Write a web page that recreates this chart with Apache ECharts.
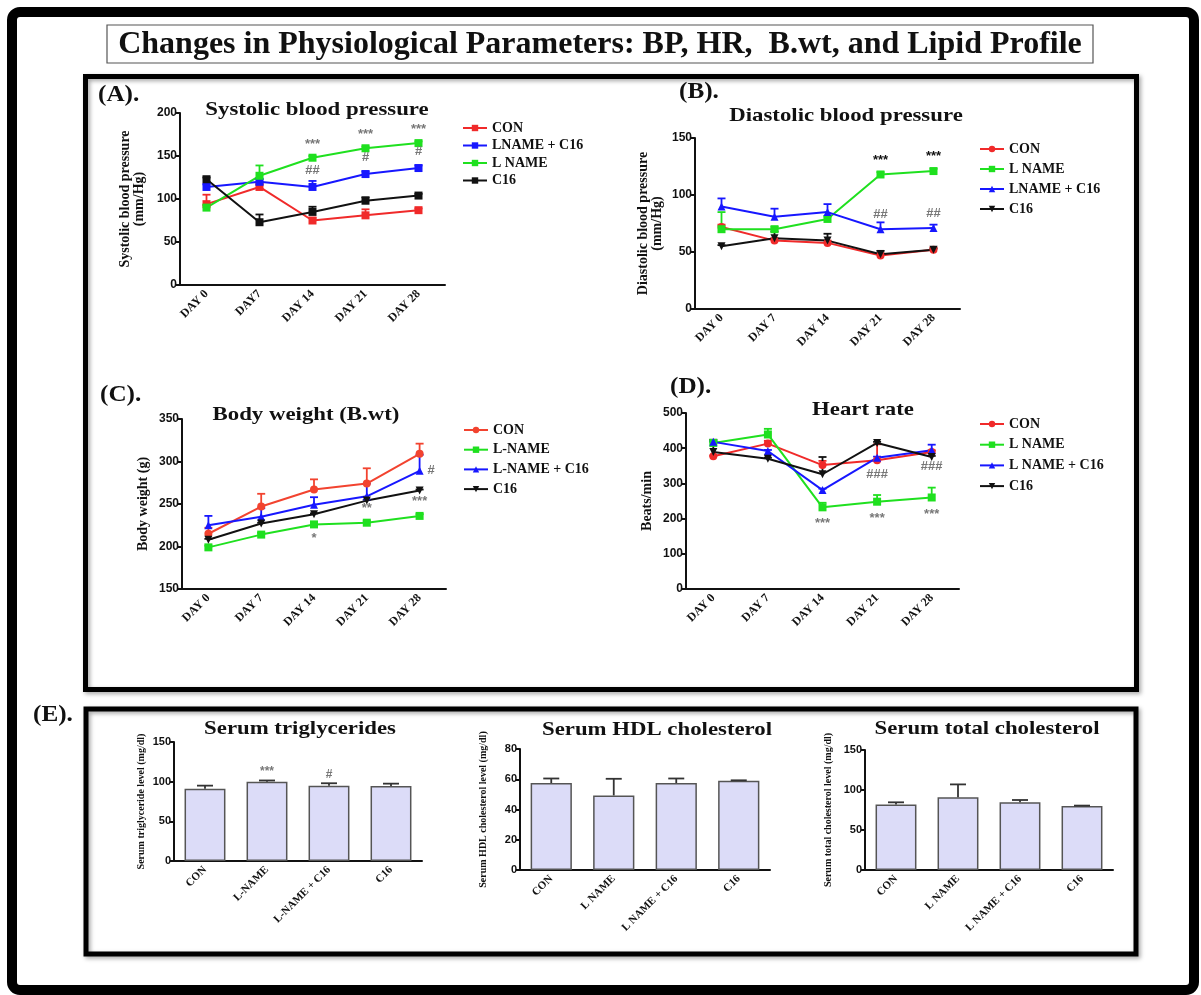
<!DOCTYPE html>
<html>
<head>
<meta charset="utf-8">
<script src="https://cdn.jsdelivr.net/npm/echarts@6/dist/echarts.min.js"></script>
<style>
  html, body { margin: 0; padding: 0; background: #fff; }
  #chart { width: 1201px; height: 995px; }
</style>
</head>
<body>
<div id="chart"></div>
<script>
// ---- data ----
const daysA = ['DAY 0', 'DAY7', 'DAY 14', 'DAY 21', 'DAY 28'];
const days = ['DAY 0', 'DAY 7', 'DAY 14', 'DAY 21', 'DAY 28'];

// (A) systolic blood pressure
const sbpCon = [94, 114, 75, 81, 87];
const sbpConErr = [11, 3, 3, 7, 2];
const sbpLnameC16 = [114, 120, 114, 129, 136];
const sbpLnameC16Err = [3, 3, 7, 3, 3];
const sbpLname = [90, 127, 148, 159, 165];
const sbpLnameErr = [3, 12, 2, 2, 2];
const sbpC16 = [123, 73, 85, 98, 104];
const sbpC16Err = [2, 9, 6, 4, 2];
const sbpLnameNotes = ['', '', '***', '***', '***'];
const sbpLnameC16Notes = ['', '', '##', '#', '#'];

// (B) diastolic blood pressure
const dbpCon = [72, 60, 58, 47, 52];
const dbpConErr = [2, 2, 2, 2, 2];
const dbpLname = [70, 70, 79, 118, 121];
const dbpLnameErr = [15, 2, 2, 2, 2];
const dbpLnameC16 = [90, 81, 85, 70, 71];
const dbpLnameC16Err = [7, 7, 7, 6, 3];
const dbpC16 = [55, 62, 60, 48, 52];
const dbpC16Err = [1, 6, 6, 3, 1];
const dbpLnameNotes = ['', '', '', '***', '***'];
const dbpLnameC16Notes = ['', '', '', '##', '##'];

// (C) body weight
const bwCon = [215, 247, 267, 274, 309];
const bwConErr = [7, 15, 12, 18, 12];
const bwLname = [199, 214, 226, 228, 236];
const bwLnameErr = [2, 2, 2, 2, 2];
const bwLnameC16 = [225, 235, 249, 259, 289];
const bwLnameC16Err = [11, 10, 9, 15, 19];
const bwC16 = [208, 227, 238, 254, 266];
const bwC16Err = [1, 1, 1, 1, 1];
const bwLnameNotes = ['', '', '*', '**', '***'];
const bwLnameC16Notes = ['', '', '', '', '#'];

// (D) heart rate
const hrCon = [377, 413, 352, 366, 389];
const hrConErr = [2, 8, 12, 45, 5];
const hrLname = [415, 439, 232, 248, 260];
const hrLnameErr = [3, 16, 13, 19, 28];
const hrLnameC16 = [418, 392, 281, 373, 394];
const hrLnameC16Err = [2, 3, 4, 3, 16];
const hrC16 = [389, 370, 326, 415, 375];
const hrC16Err = [35, 3, 49, 3, 3];
const hrLnameNotes = ['', '', '***', '***', '***'];
const hrLnameC16Notes = ['', '', '', '###', '###'];

// (E) lipid profile
const groupsTg = ['CON', 'L-NAME', 'L-NAME + C16', 'C16'];
const groupsChol = ['CON', 'L NAME', 'L NAME + C16', 'C16'];
const tgValues = [91, 100, 95, 94.5];
const tgErr = [4, 1.5, 3, 3];
const tgNotes = ['', '***', '#', ''];
const hdlValues = [57.5, 49.3, 57.5, 59];
const hdlErr = [3, 11, 3, 0.3];
const tcValues = [82, 91, 84.6, 80];
const tcErr = [2.6, 16, 2.9, 0.5];

// ---- styling ----
const SERIF = "'Liberation Serif', 'Times New Roman', serif";
const SANS = "'Liberation Sans', Arial, sans-serif";
const RED = '#f02a2a', BLUE = '#1717ff', GREEN = '#1fe01f', BLACK = '#111', NOTE = '#777';

const grids = [], xAxes = [], yAxes = [], series = [], legends = [], graphics = [];

function errorBarSeries(idx, values, errs, color, capHalf) {
  return {
    type: 'custom', xAxisIndex: idx, yAxisIndex: idx, z: 1, silent: true,
    data: values.map((v, i) => [i, v, errs[i]]),
    renderItem: (params, api) => {
      const base = api.coord([api.value(0), api.value(1)]);
      const top = api.coord([api.value(0), api.value(1) + api.value(2)]);
      const st = { stroke: color, lineWidth: 1.8 };
      return {
        type: 'group', children: [
          { type: 'line', shape: { x1: base[0], y1: base[1], x2: top[0], y2: top[1] }, style: st },
          { type: 'line', shape: { x1: top[0] - capHalf, y1: top[1], x2: top[0] + capHalf, y2: top[1] }, style: st }
        ]
      };
    }
  };
}

function axes(idx, cats, yMin, yMax, yStep, yName, nameGap, opts) {
  xAxes.push({
    gridIndex: idx, type: 'category', data: cats, boundaryGap: true,
    axisLine: { lineStyle: { color: BLACK, width: 2 } },
    axisTick: { alignWithLabel: true, length: 4, lineStyle: { color: BLACK, width: 2 } },
    axisLabel: { rotate: 45, interval: 0, margin: 7, color: BLACK, fontFamily: SERIF, fontWeight: 'bold', fontSize: opts.xFont }
  });
  yAxes.push({
    gridIndex: idx, type: 'value', min: yMin, max: yMax, interval: yStep,
    splitLine: { show: false },
    axisLine: { show: true, lineStyle: { color: BLACK, width: 2 } },
    axisTick: { show: true, length: 4, lineStyle: { color: BLACK, width: 2 } },
    axisLabel: { margin: 3, color: BLACK, fontFamily: SANS, fontWeight: 'bold', fontSize: opts.yFont },
    name: yName, nameLocation: 'middle', nameRotate: 90, nameGap: nameGap,
    nameTextStyle: { color: BLACK, fontFamily: SERIF, fontWeight: 'bold', fontSize: opts.nameFont, lineHeight: 14 }
  });
}

function textAt(x, y, text, size, align, sx) {
  graphics.push({
    type: 'text', x: x, y: y, z: 10, scaleX: sx || 1,
    style: { text: text, fill: BLACK, font: `bold ${size}px ${SERIF}`, textAlign: align || 'center', textVerticalAlign: 'middle' }
  });
}

function linePanel(p) {
  const idx = grids.length;
  grids.push(Object.assign({ containLabel: false }, p.grid));
  axes(idx, p.cats, p.yMin, p.yMax, p.yStep, p.yName, p.nameGap, { xFont: 12, yFont: 12, nameFont: 14 });
  const names = [];
  p.groups.forEach(g => {
    const name = g.name + '#' + idx;
    names.push(name);
    series.push(errorBarSeries(idx, g.data, g.err, g.color, 4));
    series.push({
      type: 'line', name: name, xAxisIndex: idx, yAxisIndex: idx, z: 3,
      symbol: g.symbol, symbolSize: 8, symbolRotate: g.rotate || 0, showAllSymbol: true,
      lineStyle: { color: g.color, width: 2 }, itemStyle: { color: g.color },
      data: g.data.map((v, i) => {
        const note = g.notes ? g.notes[i] : '';
        if (!note) return v;
        return {
          value: v,
          label: {
            show: true, formatter: note, position: g.notePos ? g.notePos[i] : 'top', distance: g.noteDist || 4,
            color: g.noteColor || NOTE, fontFamily: SANS, fontWeight: 'bold', fontSize: 13
          }
        };
      })
    });
  });
  legends.push({
    data: names, orient: 'vertical', left: p.legend.left, top: p.legend.top, itemGap: p.legend.gap,
    itemWidth: 24, itemHeight: 8, selectedMode: false, padding: 0,
    formatter: n => n.split('#')[0],
    textStyle: { color: BLACK, fontFamily: SERIF, fontWeight: 'bold', fontSize: 14, lineHeight: 14 }
  });
  textAt(p.title.x, p.title.y, p.title.text, 19, 'center', 1.2);
  textAt(p.letter.x, p.letter.y, p.letter.text, 24, 'left', 1.05);
}

function barPanel(p) {
  const idx = grids.length;
  grids.push(Object.assign({ containLabel: false }, p.grid));
  axes(idx, p.cats, 0, p.yMax, p.yStep, p.yName, p.nameGap, { xFont: 11, yFont: 11, nameFont: 10 });
  series.push({
    type: 'bar', xAxisIndex: idx, yAxisIndex: idx, barWidth: '66%', z: 2,
    itemStyle: { color: '#dcdcf8', borderColor: '#555', borderWidth: 1.5 },
    data: p.values.map((v, i) => {
      const note = p.notes ? p.notes[i] : '';
      if (!note) return v;
      return {
        value: v,
        label: {
          show: true, formatter: note, position: 'top', distance: 3 + p.err[i] * 0.8,
          color: NOTE, fontFamily: SANS, fontWeight: 'bold', fontSize: 12
        }
      };
    })
  });
  series.push(errorBarSeries(idx, p.values, p.err, '#333', 8));
  series[series.length - 1].z = 3;
  textAt(p.title.x, p.title.y, p.title.text, 19, 'center', 1.2);
}

linePanel({
  grid: { left: 180, top: 113, width: 265, height: 172 },
  cats: daysA, yMin: 0, yMax: 200, yStep: 50, yName: 'Systolic blood pressure\n(mm/Hg)', nameGap: 34,
  groups: [
    { name: 'CON', data: sbpCon, err: sbpConErr, color: RED, symbol: 'rect' },
    { name: 'LNAME + C16', data: sbpLnameC16, err: sbpLnameC16Err, color: BLUE, symbol: 'rect', notes: sbpLnameC16Notes, noteDist: 6 },
    { name: 'L NAME', data: sbpLname, err: sbpLnameErr, color: GREEN, symbol: 'rect', notes: sbpLnameNotes, noteDist: 3 },
    { name: 'C16', data: sbpC16, err: sbpC16Err, color: BLACK, symbol: 'rect' }
  ],
  legend: { left: 462, top: 121, gap: 3.5 },
  title: { x: 317, y: 110, text: 'Systolic blood pressure' },
  letter: { x: 98, y: 95, text: '(A).' }
});

linePanel({
  grid: { left: 695, top: 138, width: 265, height: 171 },
  cats: days, yMin: 0, yMax: 150, yStep: 50, yName: 'Diastolic blood pressure\n(mm/Hg)', nameGap: 31,
  groups: [
    { name: 'CON', data: dbpCon, err: dbpConErr, color: RED, symbol: 'circle' },
    { name: 'L NAME', data: dbpLname, err: dbpLnameErr, color: GREEN, symbol: 'rect', notes: dbpLnameNotes, noteColor: BLACK, noteDist: 4 },
    { name: 'LNAME + C16', data: dbpLnameC16, err: dbpLnameC16Err, color: BLUE, symbol: 'triangle', notes: dbpLnameC16Notes, noteDist: 4 },
    { name: 'C16', data: dbpC16, err: dbpC16Err, color: BLACK, symbol: 'triangle', rotate: 180 }
  ],
  legend: { left: 979, top: 142, gap: 6 },
  title: { x: 846, y: 116, text: 'Diastolic blood pressure' },
  letter: { x: 679, y: 92, text: '(B).' }
});

linePanel({
  grid: { left: 182, top: 419, width: 264, height: 170 },
  cats: days, yMin: 150, yMax: 350, yStep: 50, yName: 'Body weight (g)', nameGap: 32,
  groups: [
    { name: 'CON', data: bwCon, err: bwConErr, color: '#f2432f', symbol: 'circle' },
    { name: 'L-NAME', data: bwLname, err: bwLnameErr, color: GREEN, symbol: 'rect', notes: bwLnameNotes,
      notePos: ['top', 'top', 'bottom', 'top', 'top'], noteDist: 4 },
    { name: 'L-NAME + C16', data: bwLnameC16, err: bwLnameC16Err, color: BLUE, symbol: 'triangle', notes: bwLnameC16Notes,
      notePos: ['top', 'top', 'top', 'top', 'right'], noteDist: 4 },
    { name: 'C16', data: bwC16, err: bwC16Err, color: BLACK, symbol: 'triangle', rotate: 180 }
  ],
  legend: { left: 463, top: 423, gap: 5.7 },
  title: { x: 306, y: 415, text: 'Body weight (B.wt)' },
  letter: { x: 100, y: 395, text: '(C).' }
});

linePanel({
  grid: { left: 686, top: 413, width: 273, height: 176 },
  cats: days, yMin: 0, yMax: 500, yStep: 100, yName: 'Beats/min', nameGap: 32,
  groups: [
    { name: 'CON', data: hrCon, err: hrConErr, color: RED, symbol: 'circle' },
    { name: 'L NAME', data: hrLname, err: hrLnameErr, color: GREEN, symbol: 'rect', notes: hrLnameNotes,
      notePos: ['bottom', 'bottom', 'bottom', 'bottom', 'bottom'], noteDist: 6 },
    { name: 'L NAME + C16', data: hrLnameC16, err: hrLnameC16Err, color: BLUE, symbol: 'triangle', notes: hrLnameC16Notes,
      notePos: ['bottom', 'bottom', 'bottom', 'bottom', 'bottom'], noteDist: 6 },
    { name: 'C16', data: hrC16, err: hrC16Err, color: BLACK, symbol: 'triangle', rotate: 180 }
  ],
  legend: { left: 979, top: 417, gap: 6.7 },
  title: { x: 863, y: 410, text: 'Heart rate' },
  letter: { x: 670, y: 387, text: '(D).' }
});

barPanel({
  grid: { left: 174, top: 742, width: 248, height: 119 },
  cats: groupsTg, yMax: 150, yStep: 50, yName: 'Serum triglyceride level (mg/dl)', nameGap: 25,
  values: tgValues, err: tgErr, notes: tgNotes,
  title: { x: 300, y: 729, text: 'Serum triglycerides' }
});
barPanel({
  grid: { left: 520, top: 749, width: 250, height: 121 },
  cats: groupsChol, yMax: 80, yStep: 20, yName: 'Serum HDL cholesterol level (mg/dl)', nameGap: 30,
  values: hdlValues, err: hdlErr,
  title: { x: 657, y: 730, text: 'Serum HDL cholesterol' }
});
barPanel({
  grid: { left: 865, top: 750, width: 248, height: 120 },
  cats: groupsChol, yMax: 150, yStep: 50, yName: 'Serum total cholesterol level (mg/dl)', nameGap: 30,
  values: tcValues, err: tcErr,
  title: { x: 987, y: 729, text: 'Serum total cholesterol' }
});

// frames and headings
graphics.unshift(
  { type: 'rect', z: 0, shape: { x: 12, y: 12, width: 1182, height: 978, r: 8 },
    style: { fill: null, stroke: '#000', lineWidth: 10 } },
  { type: 'rect', z: 0, shape: { x: 107, y: 25, width: 986, height: 38 },
    style: { fill: '#fff', stroke: '#555', lineWidth: 1.2 } },
  { type: 'rect', z: 0, shape: { x: 85.5, y: 76.5, width: 1051, height: 613 },
    style: { fill: null, stroke: '#000', lineWidth: 5, shadowBlur: 4, shadowOffsetX: 2, shadowOffsetY: 2, shadowColor: 'rgba(0,0,0,0.35)' } },
  { type: 'rect', z: 0, shape: { x: 86, y: 709, width: 1050, height: 245 },
    style: { fill: null, stroke: '#000', lineWidth: 5, shadowBlur: 4, shadowOffsetX: 2, shadowOffsetY: 2, shadowColor: 'rgba(0,0,0,0.35)' } }
);
textAt(600, 45, 'Changes in Physiological Parameters: BP, HR,  B.wt, and Lipid Profile', 32, 'center', 1.0);
textAt(33, 715, '(E).', 24, 'left', 1.05);

const chart = echarts.init(document.getElementById('chart'));
chart.setOption({
  animation: false,
  backgroundColor: '#fff',
  grid: grids,
  xAxis: xAxes,
  yAxis: yAxes,
  legend: legends,
  series: series,
  graphic: graphics
});
</script>
</body>
</html>
